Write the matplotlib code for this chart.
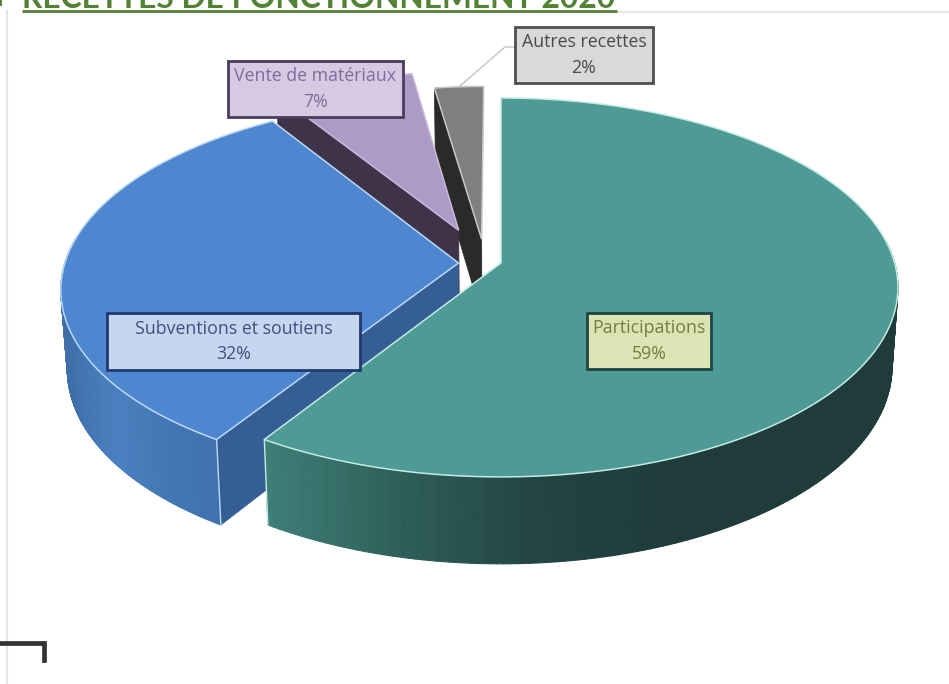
import numpy as np
import matplotlib
matplotlib.use("Agg")
import matplotlib.pyplot as plt
from matplotlib.patches import Polygon, Rectangle
from matplotlib.collections import PolyCollection
from matplotlib.colors import LinearSegmentedColormap

# ---- data ----
categories = ["Participations", "Subventions et soutiens", "Vente de matériaux", "Autres recettes"]
values = [59.0, 32.0, 6.6, 2.4]
title = "RECETTES DE FONCTIONNEMENT 2020"

# ---- styles (same order as categories) ----
top_colors = ["#4E9A94", "#4F86D0", "#AE9AC6", "#7F7F7F"]
edge_colors = ["#C4EAE4", "#BBD9F5", "#C9BAD8", "#C8C8C8"]
cut_colors = ["#2B5A56", "#355F94", "#3E3349", "#2A2A2A"]
wall_ramps = [["#3F8078", "#2F5F5B", "#234543", "#1F3C3B", "#1F3C3B"],
              ["#3F6EA8", "#4A80C0", "#4277B4", "#3F71AD"],
              ["#3E3349", "#3E3349"], ["#2A2A2A", "#2A2A2A"]]
box_fill = ["#DCE3B4", "#C6D6EE", "#D6C9E2", "#D9D9D9"]
box_edge = ["#1F4442", "#1F3A6E", "#4A3C5E", "#4F4F4F"]
box_text = ["#6F7F45", "#3F4F7F", "#7F6C9E", "#4A4A4A"]
boxes = [(587, 313, 711, 369), (107, 313, 360, 370), (228, 61, 403, 117), (515, 27, 653, 83)]
# in-plane explosion offset and radius of each slice
offsets = [(0.0, 0.0), (-0.108, 0.0), (-0.11, 0.18), (-0.05, 0.13)]
radii = [1.0, 1.0, 1.0, 0.95]

# ---- projection of the pie plane onto the page (pixels) ----
X0, Y0, BX, AY, Q, DEPTH = 501.0, 263.0, 393.6, 186.3, 0.129, 78.5

def project(u, v, low=False):
    d = 1 + Q * v
    k = 0.985 if low else 1.0
    x = X0 + k * BX * u / d
    y = Y0 - k * AY * v / d
    if low:
        y = y + DEPTH / d
    return x, y

fig = plt.figure(figsize=(9.49, 6.84), dpi=100, facecolor="white")
ax = fig.add_axes([0, 0, 1, 1])
ax.set_xlim(0, 949)
ax.set_ylim(684, 0)
ax.axis("off")

# frame of the pasted chart and remains of the neighbouring shape
ax.plot([617, 949], [11.5, 11.5], color="#E2E2E2", lw=1.2, zorder=1)
ax.plot([7, 7], [11, 684], color="#E6E6E6", lw=1.6, zorder=1)
ax.plot([0, 44.5, 44.5], [643, 643, 660], color="#333333", lw=3.4,
        solid_joinstyle="miter", zorder=1)

# angles of the slices, clockwise from 12 o'clock
fracs = np.array(values) / sum(values) * 2 * np.pi
ends = np.cumsum(fracs)
starts = ends - fracs

z = 2
for i in [3, 2, 1, 0]:
    du, dv = offsets[i]
    r = radii[i]
    th = np.linspace(starts[i], ends[i], 241)
    u = du + r * np.sin(th)
    v = dv + r * np.cos(th)
    tx, ty = project(u, v)
    bx, by = project(u, v, low=True)
    ax0, ay0 = project(np.array([du]), np.array([dv]))
    bx0, by0 = project(np.array([du]), np.array([dv]), low=True)

    # flat face of the cut that looks towards the viewer
    if i > 0:
        ax.add_patch(Polygon([(ax0[0], ay0[0]), (tx[0], ty[0]), (bx[0], by[0]), (bx0[0], by0[0])],
                             closed=True, fc=cut_colors[i], ec=cut_colors[i], lw=0.5, zorder=z))
    # rim, only where it looks towards the viewer, shaded across the page
    cmap = LinearSegmentedColormap.from_list("w", wall_ramps[i])
    keep = np.where(np.cos(th[:-1]) < Q)[0]
    polys = [[(tx[k], ty[k]), (tx[k + 1], ty[k + 1]), (bx[k + 1], by[k + 1]), (bx[k], by[k])]
             for k in keep]
    if polys:
        lo, hi = (264, 800) if i == 0 else (60, 222)
        t = np.clip((tx[keep] - lo) / (hi - lo), 0, 1)
        cols = cmap(t)
        ax.add_collection(PolyCollection(polys, facecolors=cols, edgecolors=cols, linewidths=0.8, zorder=z + 0.1))
    # corner line at the front of the two big slices
    if i < 2:
        j = -1 if i == 0 else 0
        ax.plot([tx[j], bx[j]], [ty[j], by[j]], color=edge_colors[i], lw=1.0, zorder=z + 0.2)
    # upper face
    pts = np.vstack([[ax0[0], ay0[0]], np.column_stack([tx, ty])])
    ax.add_patch(Polygon(pts, closed=True, fc=top_colors[i], ec=edge_colors[i], lw=1.1, zorder=z + 0.3))
    z += 1

# leader line of the smallest slice
ax.plot([515, 505, 460], [47, 47, 86], color="#C4C4C4", lw=1.0, zorder=9)

# labels
for name, val, b, fc, ec, tc in zip(categories, values, boxes, box_fill, box_edge, box_text):
    ax.add_patch(Rectangle((b[0], b[1]), b[2] - b[0], b[3] - b[1], fc=fc, ec=ec, lw=2.0, zorder=10))
    ax.text((b[0] + b[2]) / 2, (b[1] + b[3]) / 2, f"{name}\n{val:.0f}%", ha="center", va="center",
            fontsize=12.8, family="Open Sans", color=tc, linespacing=1.55, zorder=11)

# title, cut by the top of the picture
ax.text(22, 8, title, ha="left", va="baseline", fontsize=22.9, fontweight="bold",
        family="Lato", color="#538135", zorder=12)
ax.plot([22, 617], [11.3, 11.3], color="#538135", lw=2.0, solid_capstyle="butt", zorder=12)
ax.add_patch(Rectangle((0, 0), 2, 6, fc="#538135", ec="none", zorder=12))

fig.savefig("out.png", dpi=100, facecolor="white")
